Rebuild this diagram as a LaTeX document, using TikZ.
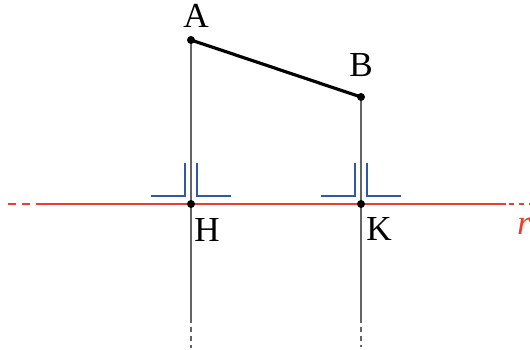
\documentclass[tikz,border=0pt]{standalone}
\usepackage{fontspec}
\setmainfont{Liberation Serif}
\usepackage{tikz}
\usetikzlibrary{positioning}
\definecolor{linered}{RGB}{236, 62, 42}
\definecolor{markblue}{RGB}{48, 88, 170}
\definecolor{mygrey}{RGB}{100, 100, 100}

\tikzset{
  lbl/.style={inner sep=0pt, font={\fontsize{20pt}{24pt}\selectfont}},
  perp/.style={mygrey, line width=1.1},
  bracket/.style={markblue, line width=1.6}
}

\begin{document}
\begin{tikzpicture}[scale=1.0]

  \useasboundingbox (0, 0) rectangle (10.6, 6.98);

  \coordinate (A) at (3.82, 6.18);
  \coordinate (B) at (7.22, 5.04);
  \coordinate (H) at (3.82, 2.90);
  \coordinate (K) at (7.22, 2.90);
  \coordinate (Ha) at (3.82, 0.62);
  \coordinate (Hb) at (3.82, 0.02);
  \coordinate (Ka) at (7.22, 0.62);
  \coordinate (Kb) at (7.22, 0.04);
  \coordinate (rl0) at (0.16, 2.90);
  \coordinate (rl) at (0.72, 2.90);
  \coordinate (rr) at (10.12, 2.90);
  \coordinate (rr0) at (10.6, 2.90);

  % projections
  \draw[perp] (A) -- (Ha);
  \draw[perp] (B) -- (Ka);
  \draw[perp, dash pattern=on 0.1cm off 0.08cm] (Ha) -- (Hb);
  \draw[perp, dash pattern=on 0.1cm off 0.08cm] (Ka) -- (Kb);

  % line r
  \draw[linered, line width=1.2] (rl) -- (rr);
  \draw[linered, line width=1.2, dash pattern=on 0.16cm off 0.12cm] (rl0) -- (rl);
  \draw[linered, line width=1.2, dash pattern=on 0.1cm off 0.1cm, dash phase=-0.06cm] (rr) -- (rr0);

  % right angle marks
  \draw[bracket] (H) ++(-0.80, 0.16) -- ++(0.68, 0) -- ++(0, 0.66);
  \draw[bracket] (H) ++(0.12, 0.82) -- ++(0, -0.66) -- ++(0.68, 0);
  \draw[bracket] (K) ++(-0.80, 0.16) -- ++(0.68, 0) -- ++(0, 0.66);
  \draw[bracket] (K) ++(0.12, 0.82) -- ++(0, -0.66) -- ++(0.68, 0);

  \draw[line width=1.8] (A) -- (B);

  \fill (A) circle (0.08);
  \fill (B) circle (0.08);
  \fill (H) circle (0.08);
  \fill (K) circle (0.08);

  \node[lbl, above=0.24cm of A, xshift=0.1cm] (lA) {A};
  \node[lbl, above=0.4cm of B] (lB) {B};
  \node[lbl, below=0.28cm of H, xshift=0.32cm] (lH) {H};
  \node[lbl, below=0.26cm of K, xshift=0.36cm] (lK) {K};
  \node[lbl, linered, below=0.28cm of rr0, xshift=-0.12cm] (lr) {\textit{r}};

\end{tikzpicture}
\end{document}
